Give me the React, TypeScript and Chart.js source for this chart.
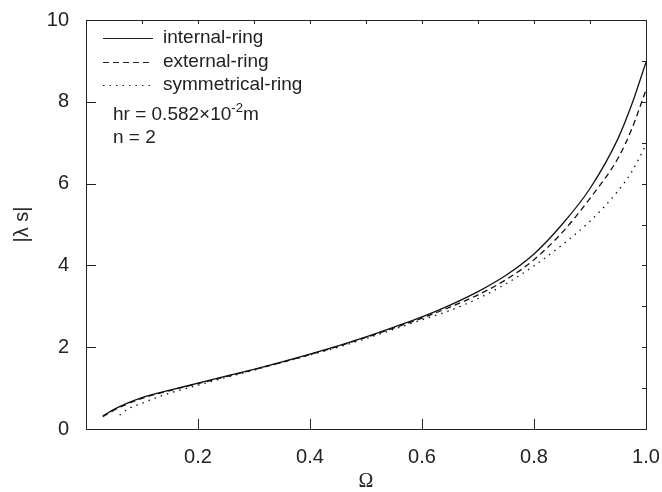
import React, { useEffect, useRef } from "react";
import { Chart, registerables } from "chart.js";

Chart.register(...registerables);

// Ω values for internal / external rings
const omegaIE = [0.03, 0.05, 0.075, 0.1, 0.15, 0.2, 0.25, 0.3, 0.35, 0.4, 0.45, 0.5, 0.55, 0.6, 0.65, 0.7, 0.75, 0.8, 0.85, 0.9, 0.95, 0.975, 1.0];
const internalRing = [0.32, 0.48, 0.64, 0.77, 0.95, 1.12, 1.29, 1.46, 1.64, 1.83, 2.03, 2.25, 2.49, 2.74, 3.03, 3.36, 3.76, 4.28, 5.0, 5.88, 7.1, 7.95, 8.97];
const externalRing = [0.3, 0.46, 0.62, 0.75, 0.94, 1.11, 1.28, 1.45, 1.63, 1.82, 2.02, 2.24, 2.47, 2.71, 2.98, 3.28, 3.65, 4.14, 4.8, 5.64, 6.62, 7.35, 8.29];
// Ω values for symmetrical ring
const omegaS = [0.06, 0.075, 0.1, 0.125, 0.15, 0.2, 0.25, 0.3, 0.35, 0.4, 0.45, 0.5, 0.55, 0.6, 0.65, 0.7, 0.75, 0.8, 0.85, 0.9, 0.95, 0.975, 1.0];
const symmetricalRing = [0.34, 0.49, 0.63, 0.76, 0.88, 1.07, 1.26, 1.44, 1.63, 1.81, 2.0, 2.21, 2.44, 2.67, 2.9, 3.19, 3.55, 3.99, 4.5, 5.08, 5.82, 6.3, 6.95];

const seriesLabels = ["internal-ring", "external-ring", "symmetrical-ring"];
const seriesDash = [[], [6, 4], [1.5, 5]];
const xTicksMajor = [0.2, 0.4, 0.6, 0.8, 1.0];
const xTicksMinor = [0.1, 0.2, 0.3, 0.4, 0.5, 0.6, 0.7, 0.8, 0.9];
const yTicksMajor = [0, 2, 4, 6, 8, 10];
const yTicksMinor = [1, 2, 3, 4, 5, 6, 7, 8, 9];

const FONT = "'Liberation Sans', Arial, Helvetica, sans-serif";

const framePlugin = {
  id: "frameTicks",
  afterDraw(chart: any) {
    const { ctx, chartArea } = chart;
    const xs = chart.scales.x;
    const ys = chart.scales.y;
    const { left, right, top, bottom } = chartArea;
    ctx.save();
    ctx.strokeStyle = "#222";
    ctx.lineWidth = 1;
    ctx.setLineDash([]);
    ctx.strokeRect(left + 0.5, top + 0.5, right - left, bottom - top);
    ctx.beginPath();
    xTicksMajor.forEach((v) => {
      const px = Math.round(xs.getPixelForValue(v)) + 0.5;
      ctx.moveTo(px, bottom);
      ctx.lineTo(px, bottom - 10);
    });
    xTicksMinor.forEach((v) => {
      const px = Math.round(xs.getPixelForValue(v)) + 0.5;
      ctx.moveTo(px, top);
      ctx.lineTo(px, top + 4);
    });
    yTicksMajor.forEach((v) => {
      const py = Math.round(ys.getPixelForValue(v)) + 0.5;
      ctx.moveTo(left, py);
      ctx.lineTo(left + 10, py);
    });
    yTicksMinor.forEach((v) => {
      const py = Math.round(ys.getPixelForValue(v)) + 0.5;
      ctx.moveTo(right, py);
      ctx.lineTo(right - 4, py);
    });
    ctx.stroke();

    // legend
    const lx0 = left + 17;
    const lx1 = left + 67;
    const tx = left + 77;
    const rows = [top + 18, top + 42, top + 65];
    ctx.font = `19px ${FONT}`;
    ctx.fillStyle = "#222";
    ctx.textBaseline = "middle";
    ctx.textAlign = "left";
    rows.forEach((ry, i) => {
      ctx.beginPath();
      ctx.setLineDash(seriesDash[i]);
      ctx.lineWidth = 1.2;
      ctx.moveTo(lx0, ry + 0.5);
      ctx.lineTo(lx1, ry + 0.5);
      ctx.stroke();
      ctx.setLineDash([]);
      ctx.fillText(seriesLabels[i], tx, ry);
    });
    // annotations
    const ax = left + 27;
    const ay1 = top + 95;
    const ay2 = top + 118;
    ctx.font = `19px ${FONT}`;
    const base = "hr = 0.582\u00d710";
    ctx.fillText(base, ax, ay1);
    const w = ctx.measureText(base).width;
    ctx.font = `13px ${FONT}`;
    ctx.fillText("-2", ax + w, ay1 - 7);
    const w2 = ctx.measureText("-2").width;
    ctx.font = `19px ${FONT}`;
    ctx.fillText("m", ax + w + w2, ay1);
    ctx.fillText("n = 2", ax, ay2);
    ctx.restore();
  },
};

export default function App() {
  const ref = useRef<HTMLCanvasElement>(null);
  useEffect(() => {
    if (!ref.current) return;
    const mk = (xs: number[], ys: number[]) => xs.map((x, i) => ({ x, y: ys[i] }));
    const chart = new Chart(ref.current, {
      type: "line",
      data: {
        datasets: [
          { label: seriesLabels[0], data: mk(omegaIE, internalRing), borderDash: seriesDash[0] },
          { label: seriesLabels[1], data: mk(omegaIE, externalRing), borderDash: seriesDash[1] },
          { label: seriesLabels[2], data: mk(omegaS, symmetricalRing), borderDash: seriesDash[2] },
        ].map((d) => ({
          ...d,
          borderColor: "#111",
          borderWidth: 1.3,
          pointRadius: 0,
          fill: false,
          cubicInterpolationMode: "monotone" as const,
        })),
      },
      options: {
        responsive: false,
        animation: false,
        layout: { padding: { top: 20, right: 16, left: 0, bottom: 0 } },
        plugins: { legend: { display: false }, tooltip: { enabled: false } },
        scales: {
          x: {
            type: "linear",
            min: 0,
            max: 1,
            grid: { display: false, drawTicks: false },
            border: { display: false },
            ticks: {
              stepSize: 0.2,
              padding: 16,
              color: "#222",
              font: { size: 20, family: FONT },
              callback: (v: any) => (Number(v) === 0 ? "" : Number(v).toFixed(1)),
            },
            title: {
              display: true,
              text: "\u03a9",
              color: "#222",
              font: { size: 20, family: "'Liberation Serif', 'Times New Roman', serif", lineHeight: 1 },
              padding: 0,
            },
            afterFit: (s: any) => {
              s.height = 63;
              s.paddingLeft = 0;
              s.paddingRight = 0;
            },
          },
          y: {
            type: "linear",
            min: 0,
            max: 10,
            grid: { display: false, drawTicks: false },
            border: { display: false },
            ticks: {
              stepSize: 2,
              padding: 17,
              color: "#222",
              font: { size: 20, family: FONT },
            },
            title: {
              display: true,
              text: "|\u03bb s|",
              color: "#222",
              font: { size: 20, family: FONT },
              padding: { top: 10, bottom: 0 },
            },
            afterFit: (s: any) => {
              s.width = 86;
              s.paddingTop = 0;
              s.paddingBottom = 0;
            },
          },
        },
      },
      plugins: [framePlugin],
    });
    return () => chart.destroy();
  }, []);
  return (
    <div style={{ position: "absolute", left: 0, top: 0, width: 662, height: 492, background: "#fff" }}>
      <canvas ref={ref} width={662} height={492} style={{ width: 662, height: 492 }} />
    </div>
  );
}
